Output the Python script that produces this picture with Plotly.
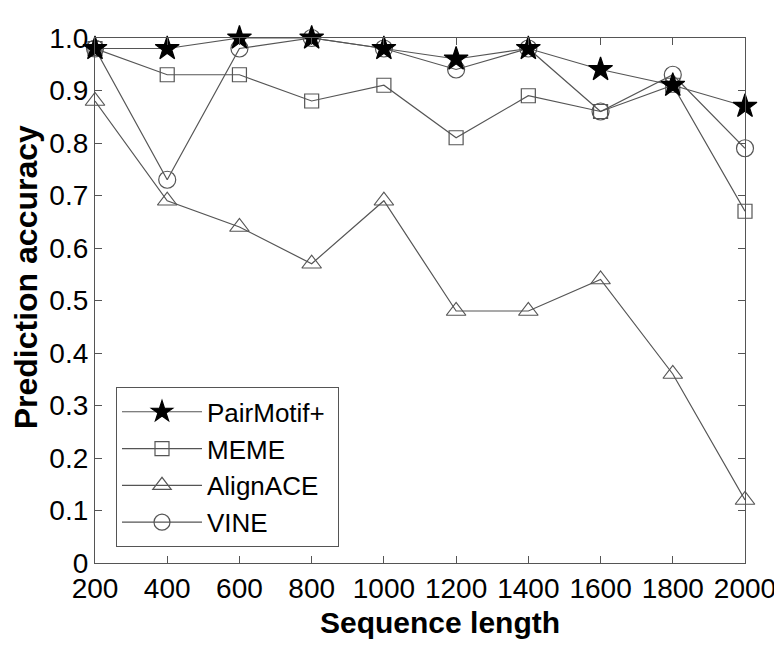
import plotly.graph_objects as go

seq_len = [200, 400, 600, 800, 1000, 1200, 1400, 1600, 1800, 2000]
pairmotif = [0.98, 0.98, 1.00, 1.00, 0.98, 0.96, 0.98, 0.94, 0.91, 0.87]
meme = [0.98, 0.93, 0.93, 0.88, 0.91, 0.81, 0.89, 0.86, 0.91, 0.67]
alignace = [0.88, 0.69, 0.64, 0.57, 0.69, 0.48, 0.48, 0.54, 0.36, 0.12]
vine = [0.98, 0.73, 0.98, 1.00, 0.98, 0.94, 0.98, 0.86, 0.93, 0.79]

y_ticks = [0, 0.1, 0.2, 0.3, 0.4, 0.5, 0.6, 0.7, 0.8, 0.9, 1.0]
y_labels = ["0", "0.1", "0.2", "0.3", "0.4", "0.5", "0.6", "0.7", "0.8", "0.9", "1.0"]

GRAY = "#555555"
FONT = "Liberation Sans, Arial, sans-serif"

fig = go.Figure()

def add(name, y, symbol, size, fill, rank):
    fig.add_trace(go.Scatter(
        x=seq_len, y=y, name=name, mode="lines+markers",
        line=dict(color=GRAY, width=1.2),
        marker=dict(symbol=symbol, size=size, color=fill,
                    line=dict(color=GRAY if fill != "black" else "black", width=1.2)),
        cliponaxis=False, legendrank=rank,
    ))

add("MEME", meme, "square-open", 14, GRAY, 2)
add("AlignACE", alignace, "triangle-up-open", 17, GRAY, 3)
add("VINE", vine, "circle-open", 17, GRAY, 4)
add("PairMotif+\u00a0", pairmotif, "star", 18, "black", 1)

axis_common = dict(
    showline=True, linecolor=GRAY, linewidth=1.2, mirror="ticks",
    ticks="inside", ticklen=7, tickcolor=GRAY, showgrid=False, zeroline=False,
    tickfont=dict(family=FONT, size=28, color="black"),
    ticklabeloverflow="allow",
)

# page body has an 8px default margin; sizes compensate for it
fig.update_layout(
    width=774, height=637,
    margin=dict(l=87, r=37, t=30, b=82, autoexpand=False),
    paper_bgcolor="white", plot_bgcolor="white",
    showlegend=True,
    legend=dict(x=0.032, y=0.335, xanchor="left", yanchor="top",
                bordercolor=GRAY, borderwidth=1.2, bgcolor="white",
                font=dict(family=FONT, size=26, color="black"),
                tracegroupgap=0, itemwidth=80),
    xaxis=dict(range=[200, 2000], tickvals=seq_len, **axis_common),
    yaxis=dict(range=[0, 1.0], tickvals=y_ticks, ticktext=y_labels, **axis_common),
    annotations=[
        dict(text="<b>Sequence length</b>", xref="paper", yref="paper",
             x=0.531, y=-0.078, xanchor="center", yanchor="top", showarrow=False,
             font=dict(family=FONT, size=30, color="black")),
        dict(text="<b>Prediction accuracy</b>", xref="paper", yref="paper",
             x=-0.107, y=0.545, xanchor="center", yanchor="middle", showarrow=False,
             textangle=-90, font=dict(family=FONT, size=32, color="black")),
    ],
)

fig.write_html("out.html")
